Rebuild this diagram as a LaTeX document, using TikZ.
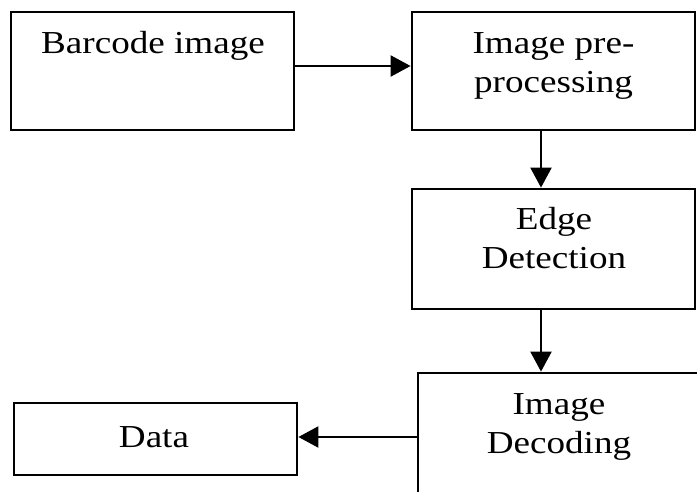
\documentclass[tikz,border=0pt]{standalone}
\usepackage{fontspec}
\setmainfont[FakeStretch=1.16]{Liberation Serif}
\usetikzlibrary{arrows.meta}
\tikzset{
  stagebox/.style={draw=black, line width=2.8pt, rectangle, inner sep=0pt},
  stagetext/.style={inner sep=0pt, align=center, anchor=base,
    font=\fontsize{32}{39}\selectfont},
  flow/.style={line width=2.2pt, -{Triangle[length=20pt,width=21pt]}}
}
\begin{document}
\begin{tikzpicture}[x=1pt, y=-1pt]
  \useasboundingbox (0,0) rectangle (697,492);
  \clip (0,0) rectangle (697,492);
  % boxes of the processing chain
  \node[stagebox, minimum width=283pt, minimum height=118pt] (barcode) at (152.5,71) {};
  \node[stagebox, minimum width=283pt, minimum height=118pt] (prep) at (553.5,71) {};
  \node[stagebox, minimum width=283pt, minimum height=120pt] (edge) at (553.5,249) {};
  \node[stagebox, minimum width=282pt, minimum height=120pt] (decode) at (559,433) {};
  \node[stagebox, minimum width=283pt, minimum height=72pt] (data) at (155.5,439) {};
  % labels (anchored at the baseline of their last line)
  \node[stagetext] (tbarcode) at (153,54) {Barcode image};
  \node[stagetext] (tprep) at (553.5,93) {Image pre-\\processing};
  \node[stagetext] (tedge) at (554,269) {Edge\\Detection};
  \node[stagetext] (tdecode) at (559,453) {Image\\Decoding};
  \node[stagetext] (tdata) at (154,447) {Data};
  % connectors
  \draw[flow] (barcode.east |- 0,66) -- (prep.west |- 0,66);
  \draw[flow] (prep.south -| 541,0) -- (edge.north -| 541,0);
  \draw[flow] (edge.south -| 541,0) -- (decode.north -| 541,0);
  \draw[flow] (decode.west |- 0,437) -- (data.east |- 0,437);
\end{tikzpicture}
\end{document}
